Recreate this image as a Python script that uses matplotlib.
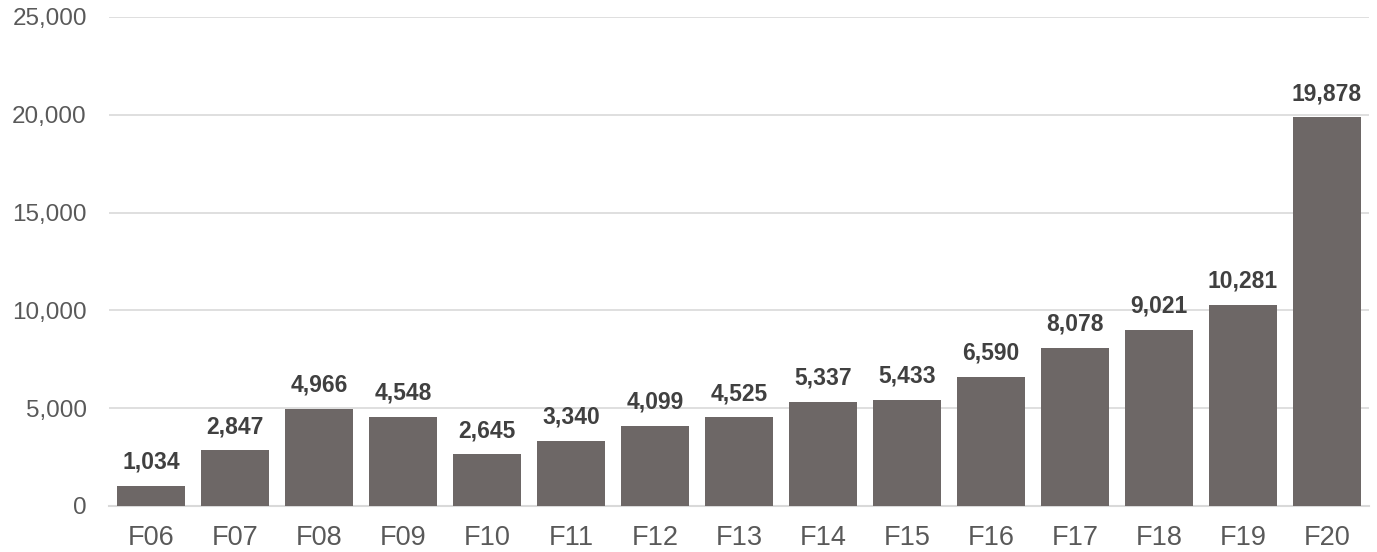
import matplotlib
matplotlib.use("Agg")
import matplotlib.pyplot as plt

years = ["F06", "F07", "F08", "F09", "F10", "F11", "F12", "F13",
         "F14", "F15", "F16", "F17", "F18", "F19", "F20"]
values = [1034, 2847, 4966, 4548, 2645, 3340, 4099, 4525,
          5337, 5433, 6590, 8078, 9021, 10281, 19878]
yticks = [0, 5000, 10000, 15000, 20000, 25000]

plt.rcParams["font.family"] = ["Liberation Sans", "DejaVu Sans"]

fig = plt.figure(figsize=(13.77, 5.52), dpi=100)
ax = fig.add_axes([109 / 1377, 1 - 506 / 552, 1260 / 1377, 489 / 552])

x = range(len(years))
ax.bar(x, values, width=0.8, color="#6d6766", zorder=3)

for xi, v in zip(x, values):
    ax.text(xi, v + 620, f"{v:,}", ha="center", va="bottom",
            fontsize=16.5, fontweight="bold", color="#404040")

ax.set_xlim(-0.5, len(years) - 0.5)
ax.set_ylim(0, 25000)
ax.set_yticks(yticks)
ax.set_yticklabels([f"{t:,}" for t in yticks])
ax.set_xticks(list(x))
ax.set_xticklabels(years)
ax.tick_params(axis="y", length=0, pad=16, labelsize=17.5, labelcolor="#595959")
ax.tick_params(axis="x", length=0, pad=14, labelsize=19.5, labelcolor="#595959")

ax.yaxis.grid(True, color="#d9d9d9", linewidth=1.2, zorder=0)
for s in ["top", "right", "left"]:
    ax.spines[s].set_visible(False)
ax.spines["bottom"].set_color("#d9d9d9")
ax.spines["bottom"].set_linewidth(1.5)

fig.savefig("out.png", dpi=100)
